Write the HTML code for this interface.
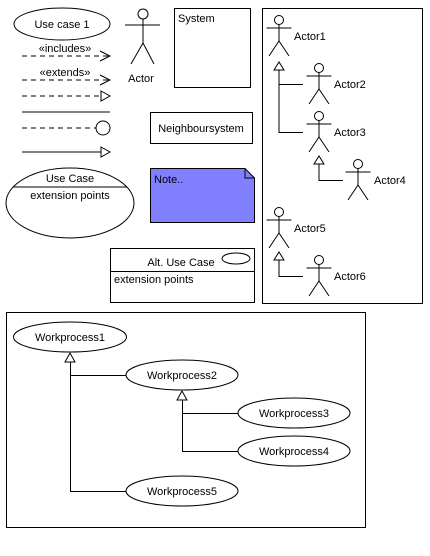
<!DOCTYPE html>
<html><head><meta charset="utf-8"><style>
html,body{margin:0;padding:0;background:#fff;width:430px;height:556px;overflow:hidden}
svg text{font-family:"Liberation Sans",Arial,sans-serif;font-size:11px;fill:#000}
</style></head><body>
<svg width="430" height="556" viewBox="0 0 430 556" xmlns="http://www.w3.org/2000/svg" fill="none" stroke="#000" stroke-width="1">
<defs>
<g id="act"><circle cx="0" cy="0" r="4.5" fill="#fff"/><line x1="0" y1="4.5" x2="0" y2="21"/><line x1="-12.5" y1="8" x2="12.5" y2="8"/><line x1="0" y1="21" x2="-10" y2="36"/><line x1="0" y1="21" x2="10" y2="36"/></g>
</defs>
<!-- left column -->
<ellipse cx="62" cy="24" rx="48" ry="16" fill="#fff"/>
<text x="62" y="28" text-anchor="middle" stroke="none">Use case 1</text>
<text x="65" y="52" text-anchor="middle" stroke="none">«includes»</text>
<line x1="22" y1="56" x2="110" y2="56" stroke-dasharray="5,4"/>
<polyline points="100,51 110,56 100,61"/>
<text x="65" y="76" text-anchor="middle" stroke="none">«extends»</text>
<line x1="22" y1="80" x2="110" y2="80" stroke-dasharray="5,4"/>
<polyline points="100,75 110,80 100,85"/>
<line x1="22" y1="96" x2="101" y2="96" stroke-dasharray="5,4"/>
<polygon points="101,91 110,96 101,101"/>
<line x1="22" y1="112" x2="110" y2="112"/>
<line x1="22" y1="128" x2="96" y2="128" stroke-dasharray="5,4"/>
<circle cx="103" cy="128" r="7"/>
<line x1="22" y1="152" x2="101" y2="152"/>
<polygon points="101,147 110,152 101,157"/>
<ellipse cx="70" cy="203" rx="64" ry="35"/>
<line x1="13" y1="187" x2="127" y2="187"/>
<text x="70" y="182" text-anchor="middle" stroke="none">Use Case</text>
<text x="70" y="199" text-anchor="middle" stroke="none">extension points</text>
<!-- actor -->
<circle cx="143" cy="14" r="5"/>
<line x1="143" y1="19" x2="143" y2="43"/>
<line x1="125" y1="25" x2="160" y2="25"/>
<line x1="143" y1="43" x2="131" y2="64"/>
<line x1="143" y1="43" x2="154" y2="64"/>
<text x="141" y="82" text-anchor="middle" stroke="none">Actor</text>
<rect x="174.5" y="8.5" width="76" height="79"/>
<text x="178" y="22" stroke="none">System</text>
<rect x="150.5" y="112.5" width="102" height="31"/>
<text x="201" y="132" text-anchor="middle" stroke="none">Neighboursystem</text>
<path d="M150.5 168.5 H245 L254.5 178 V222.5 H150.5 Z" fill="#8080ff"/>
<path d="M245 168.5 V178 H254.5"/>
<text x="154" y="183" stroke="none">Note..</text>
<rect x="110.5" y="248.5" width="144" height="54"/>
<line x1="110" y1="271.5" x2="254" y2="271.5"/>
<text x="181" y="266" text-anchor="middle" stroke="none">Alt. Use Case</text>
<ellipse cx="236" cy="258.5" rx="14" ry="5.5"/>
<text x="114" y="283" stroke="none">extension points</text>
<!-- right panel -->
<rect x="262.5" y="8.5" width="160" height="295"/>
<use href="#act" x="279" y="20"/><text x="294" y="40" stroke="none">Actor1</text>
<use href="#act" x="319" y="68"/><text x="334" y="88" stroke="none">Actor2</text>
<use href="#act" x="319" y="116"/><text x="334" y="136" stroke="none">Actor3</text>
<use href="#act" x="358" y="164"/><text x="374" y="184" stroke="none">Actor4</text>
<use href="#act" x="279" y="212"/><text x="294" y="232" stroke="none">Actor5</text>
<use href="#act" x="319" y="260"/><text x="334" y="280" stroke="none">Actor6</text>
<polygon points="279,62 274,70 284,70"/>
<polyline points="279,70 279,132.5 303,132.5"/>
<line x1="279" y1="84.5" x2="303" y2="84.5"/>
<polygon points="319,156 314,164 324,164"/>
<polyline points="319,164 319,180.5 343,180.5"/>
<polygon points="279,252 274,260 284,260"/>
<polyline points="279,260 279,276.5 303,276.5"/>
<!-- bottom panel -->
<rect x="6.5" y="312.5" width="359" height="215"/>
<ellipse cx="70" cy="337" rx="56.5" ry="15"/><text x="70" y="341" text-anchor="middle" stroke="none">Workprocess1</text>
<ellipse cx="182" cy="375" rx="56" ry="15"/><text x="182" y="379" text-anchor="middle" stroke="none">Workprocess2</text>
<ellipse cx="294" cy="413" rx="56" ry="15"/><text x="294" y="417" text-anchor="middle" stroke="none">Workprocess3</text>
<ellipse cx="294" cy="451" rx="56" ry="15"/><text x="294" y="455" text-anchor="middle" stroke="none">Workprocess4</text>
<ellipse cx="182" cy="491" rx="56" ry="15"/><text x="182" y="495" text-anchor="middle" stroke="none">Workprocess5</text>
<polygon points="70,353 65,362 75,362"/>
<polyline points="70.5,362 70.5,491.5 126,491.5"/>
<line x1="70" y1="375.5" x2="126" y2="375.5"/>
<polygon points="182,391 177,400 187,400"/>
<polyline points="182.5,400 182.5,451.5 238,451.5"/>
<line x1="182" y1="413.5" x2="238" y2="413.5"/>
</svg>
</body></html>
